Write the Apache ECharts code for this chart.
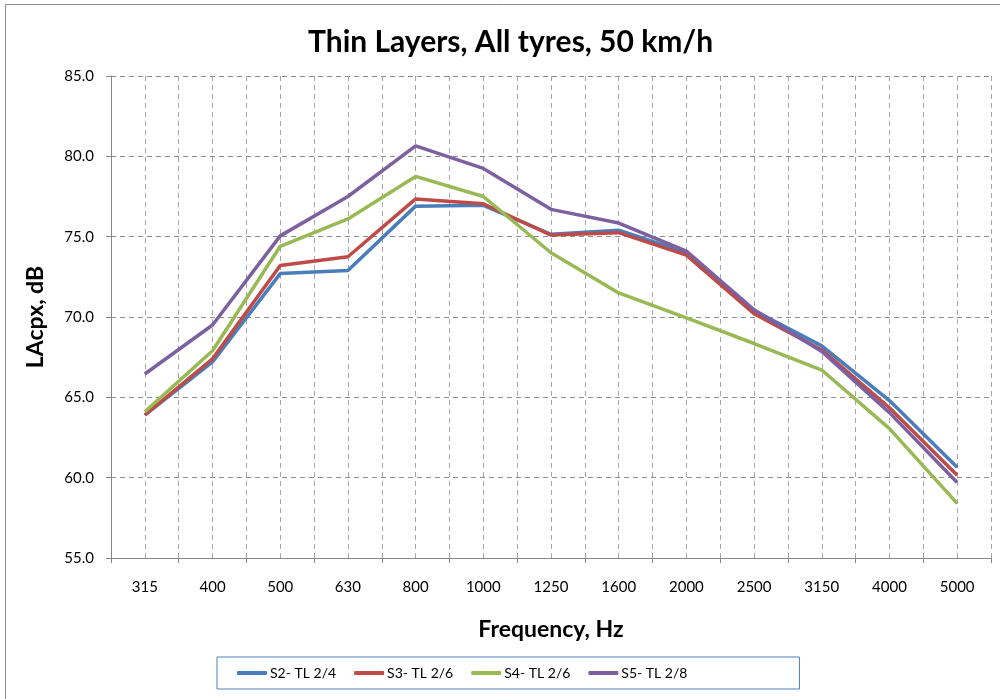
<!DOCTYPE html>
<html>
<head>
<meta charset="utf-8">
<script src="https://cdn.jsdelivr.net/npm/echarts@6/dist/echarts.min.js"></script>
<style>
html,body{margin:0;padding:0;background:#fff;}
#chart{width:1000px;height:699px;}
</style>
</head>
<body>
<div id="chart"></div>
<script>
const categories = ['315','400','500','630','800','1000','1250','1600','2000','2500','3150','4000','5000'];
const seriesNames = ['S2- TL 2/4','S3- TL 2/6','S4- TL 2/6','S5- TL 2/8'];
const s2 = [63.9, 67.2, 72.7, 72.9, 76.9, 76.95, 75.15, 75.4, 74.0, 70.4, 68.2, 64.8, 60.65];
const s3 = [63.9, 67.4, 73.2, 73.75, 77.35, 77.05, 75.1, 75.25, 73.85, 70.2, 67.95, 64.35, 60.15];
const s4 = [64.1, 67.9, 74.4, 76.1, 78.75, 77.5, 74.0, 71.5, 69.95, 68.35, 66.7, 63.05, 58.4];
const s5 = [66.45, 69.5, 75.05, 77.5, 80.65, 79.25, 76.7, 75.85, 74.1, 70.45, 67.85, 64.05, 59.7];
const colors = ['#4A7EBB', '#BE4B48', '#98B954', '#7D60A0'];
const data = [s2, s3, s4, s5];

const FONT = 'Lato';
const chart = echarts.init(document.getElementById('chart'));
chart.setOption({
  animation: false,
  backgroundColor: '#fff',
  color: colors,
  textStyle: { fontFamily: FONT },
  graphic: [{
    type: 'rect', shape: { x: 5.5, y: 4.5, width: 1000, height: 700 },
    style: { fill: 'none', stroke: '#8c8c8c', lineWidth: 1 }, silent: true, z: -1
  }],
  title: {
    text: 'Thin Layers, All tyres, 50 km/h',
    left: 303, top: 22,
    textStyle: { fontFamily: FONT, fontSize: 30, fontWeight: 'bold', color: '#000' }
  },
  grid: { left: 111, right: 9, top: 76, bottom: 141 },
  legend: {
    data: seriesNames,
    left: 217, top: 657,
    padding: [9, 112, 9, 20],
    borderColor: '#4F81BD', borderWidth: 1,
    itemWidth: 30, itemHeight: 4, itemGap: 18,
    icon: 'roundRect',
    textStyle: { fontFamily: FONT, fontSize: 14, color: '#000', padding: [0, 0, 0, -2] }
  },
  xAxis: [{
    type: 'category', data: categories, boundaryGap: true,
    axisLine: { lineStyle: { color: '#868686', width: 1 } },
    axisTick: { show: true, length: 5, alignWithLabel: false, lineStyle: { color: '#868686' } },
    axisLabel: { fontFamily: FONT, fontSize: 15, color: '#000', margin: 22 },
    splitLine: { show: false },
    name: 'Frequency, Hz', nameLocation: 'middle', nameGap: 60,
    nameTextStyle: { fontFamily: FONT, fontSize: 23, fontWeight: 'bold', color: '#000' }
  }, {
    type: 'value', min: 0, max: 26, interval: 1, position: 'bottom',
    axisLine: { show: false }, axisTick: { show: false }, axisLabel: { show: false },
    splitLine: { show: true, lineStyle: { color: '#a6a6a6', type: [5, 4], width: 1 } }
  }],
  yAxis: {
    type: 'value', min: 55, max: 85, interval: 5,
    axisLine: { show: true, lineStyle: { color: '#868686', width: 1 } },
    axisTick: { show: true, length: 5, lineStyle: { color: '#868686' } },
    axisLabel: { fontFamily: FONT, fontSize: 15, color: '#000', margin: 17, formatter: v => v.toFixed(1) },
    splitLine: { show: true, lineStyle: { color: '#8c8c8c', type: [5, 4], width: 1 } },
    name: 'LAcpx, dB', nameLocation: 'middle', nameGap: 64,
    nameTextStyle: { fontFamily: FONT, fontSize: 23, fontWeight: 'bold', color: '#000' }
  },
  series: seriesNames.map((n, i) => ({
    name: n, type: 'line', data: data[i], xAxisIndex: 0,
    symbol: 'none', lineStyle: { width: 3.5, color: colors[i] },
    itemStyle: { color: colors[i] }, z: 2 + i
  }))
});
</script>
</body>
</html>
